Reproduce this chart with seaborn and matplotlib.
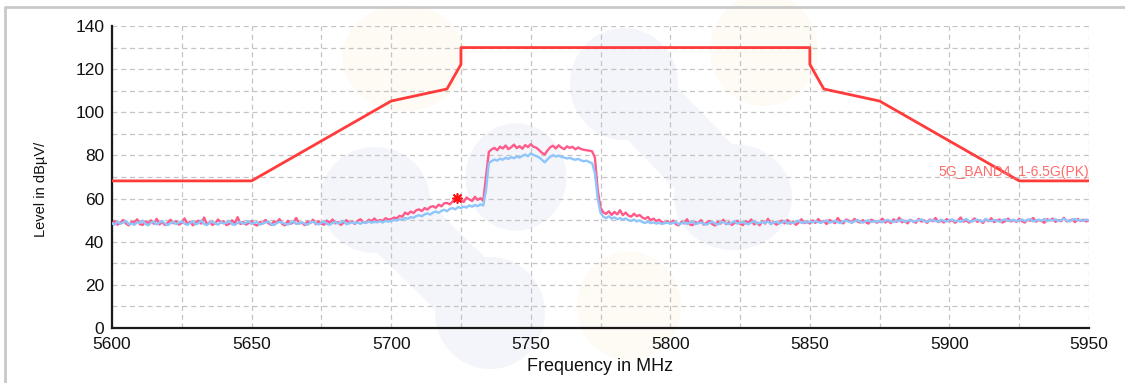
import numpy as np
import pandas as pd
import matplotlib
matplotlib.use("Agg")
import matplotlib.pyplot as plt
from matplotlib.patches import Ellipse
from matplotlib.lines import Line2D
from matplotlib.ticker import MultipleLocator
import seaborn as sns

# ---- data -------------------------------------------------------------
freq_start, freq_stop = 5600, 5950

# band-edge limit line (dBuV/m)
limit_freq = [5600, 5650, 5700, 5720, 5725, 5725, 5850, 5850, 5855, 5875, 5925, 5950]
limit_level = [68.2, 68.2, 105.2, 110.8, 122.2, 130.0, 130.0, 122.2, 110.8, 105.2, 68.2, 68.2]
limit_name = "5G_BAND4_1-6.5G(PK)"

# peak trace, 1 MHz steps from 5600 to 5950
trace_pk = [
    48.2, 49.6, 47.9, 48.8, 50.1, 48.4, 47.6, 49.2, 48.9, 50.4, 48.1, 47.8, 49.5, 48.6, 49.9, 48.3, 50.6, 48.0, 49.1, 47.7, 48.8, 50.2, 48.5, 49.4, 47.9,
    48.7, 50.8, 48.2, 49.3, 47.6, 48.9, 49.8, 48.4, 51.2, 48.1, 49.0, 47.8, 48.6, 50.3, 48.8, 49.5, 47.7, 48.3, 49.9, 48.5, 51.4, 48.2, 49.1, 47.9, 48.7,
    49.6, 48.0, 47.5, 49.2, 48.4, 50.1, 48.6, 47.8, 49.4, 48.9, 50.5, 48.2, 47.6, 49.7, 48.3, 49.0, 51.0, 48.4, 48.9, 47.7, 49.3, 48.6, 50.2, 48.1, 49.5,
    48.3, 47.9, 49.8, 48.7, 50.3, 48.5, 49.1, 47.8, 48.9, 50.0, 48.6, 49.4, 48.2, 49.7, 50.4, 49.1, 48.8, 50.2, 49.5, 50.8, 49.4, 50.1, 49.6, 50.9, 50.3,
    50.5, 51.2, 50.8, 52.0, 51.6, 53.5, 52.7, 54.0, 53.3, 54.6, 55.0, 54.2, 55.6, 54.9, 56.1, 56.5, 55.7, 57.2, 56.4, 57.8, 58.0, 57.3, 58.6, 60.1, 58.9,
    59.2, 58.4, 60.5, 59.6, 58.9, 60.8, 59.4, 60.2, 59.0, 70.5, 81.6, 82.8, 83.5, 82.4, 84.1, 83.2, 84.6, 82.9, 83.8, 85.0, 83.4, 84.3, 83.1, 84.8, 83.9,
    85.2, 84.0, 83.6, 82.5, 81.2, 80.4, 82.3, 83.8, 84.5, 83.2, 84.7, 83.6, 82.9, 84.2, 83.5, 84.0, 82.8, 83.7, 83.0, 82.6, 82.4, 82.2, 81.9, 79.0, 64.0,
    55.8, 53.6, 52.9, 54.1, 52.4, 53.8, 52.7, 54.6, 52.3, 53.5, 52.1, 51.6, 53.0, 51.8, 52.4, 51.2, 50.6, 51.5, 49.9, 50.7, 49.6, 50.2, 49.1, 48.7, 49.5,
    48.4, 49.8, 48.1, 47.6, 49.2, 48.5, 50.4, 48.0, 47.7, 49.1, 48.6, 50.0, 47.9, 48.8, 49.6, 48.2, 47.5, 49.3, 48.4, 50.2, 48.1, 49.0, 47.8, 48.6, 49.7,
    48.3, 47.7, 49.4, 48.8, 50.3, 48.0, 48.9, 47.6, 49.5, 48.4, 50.6, 48.2, 49.1, 47.9, 48.7, 49.8, 48.5, 50.1, 48.3, 49.4, 47.8, 48.9, 50.4, 48.6, 49.2,
    48.4, 49.9, 48.7, 50.5, 48.9, 49.6, 48.2, 50.1, 49.3, 48.6, 51.0, 49.2, 48.5, 50.3, 49.7, 48.8, 50.6, 49.4, 48.9, 50.0, 49.1, 48.4, 50.2, 49.6, 48.8,
    49.5, 50.7, 48.9, 49.8, 48.6, 50.4, 49.2, 51.1, 49.0, 49.7, 48.5, 50.2, 49.4, 48.8, 50.6, 49.3, 49.9, 48.7, 50.3, 49.5, 51.0, 49.1, 49.8, 48.9, 50.5,
    49.4, 50.1, 48.8, 49.7, 51.2, 49.3, 50.0, 48.9, 49.6, 50.8, 49.2, 49.9, 48.7, 50.4, 49.5, 50.9, 49.1, 49.8, 50.3, 48.9, 49.6, 50.7, 49.4, 50.0, 49.2,
    50.6, 49.5, 48.9, 50.2, 49.7, 51.0, 49.3, 50.1, 49.6, 48.8, 50.4, 49.9, 50.7, 49.2, 50.0, 49.5, 51.1, 49.4, 49.8, 50.3, 49.1, 50.5, 49.7, 50.2, 49.4, 50.0,
]

# second trace, same frequency grid
trace_av = [
    48.6, 47.9, 49.4, 48.3, 48.9, 49.7, 48.1, 48.5, 47.8, 49.0, 48.7, 49.8, 48.2, 47.6, 48.9, 49.3, 48.0, 48.8, 49.6, 48.4, 47.7, 48.6, 49.2, 48.1, 48.9,
    49.5, 48.3, 47.8, 48.7, 49.4, 48.0, 48.6, 49.9, 48.2, 47.7, 48.8, 49.3, 48.5, 47.9, 49.1, 48.4, 48.9, 49.6, 48.1, 47.8, 48.7, 49.2, 48.3, 48.8, 49.5,
    48.2, 48.7, 49.1, 47.9, 48.5, 48.9, 49.4, 48.1, 47.7, 48.6, 49.2, 48.8, 48.3, 47.9, 48.7, 49.5, 48.2, 48.6, 49.0, 48.4, 47.8, 48.9, 49.3, 48.5, 48.0,
    48.8, 49.4, 48.2, 47.9, 48.7, 49.2, 48.4, 48.9, 49.6, 48.1, 48.6, 49.0, 48.5, 48.9, 48.3, 49.1, 48.7, 49.4, 48.8, 49.2, 49.0, 49.5, 48.9, 49.7, 49.3,
    49.6, 50.1, 49.8, 50.4, 50.2, 51.0, 50.6, 51.4, 51.1, 51.9, 52.3, 51.8, 52.7, 53.1, 52.6, 53.5, 54.0, 53.4, 54.3, 54.8, 54.1, 55.2, 55.6, 55.0, 56.1,
    55.6, 56.3, 55.8, 56.9, 56.2, 57.0, 56.5, 57.3, 56.8, 64.0, 76.5, 77.4, 78.1, 77.6, 78.5, 78.0, 78.9, 78.4, 79.2, 78.7, 79.5, 79.0, 79.8, 80.4, 79.6,
    80.9, 80.2, 79.7, 79.1, 78.0, 76.8, 78.2, 79.4, 80.1, 79.5, 79.9, 79.3, 79.0, 78.6, 78.9, 78.3, 78.0, 78.4, 77.7, 77.3, 77.6, 76.9, 76.4, 72.0, 60.0,
    53.5, 51.6, 50.9, 51.8, 50.7, 51.3, 50.4, 51.0, 50.2, 50.8, 50.0, 49.6, 50.3, 49.4, 49.9, 49.1, 48.7, 49.3, 48.6, 49.0, 48.4, 48.8, 48.2, 48.6, 48.9,
    48.3, 48.7, 49.2, 48.0, 48.5, 49.0, 48.2, 48.8, 49.4, 48.1, 48.6, 48.9, 48.3, 47.9, 48.7, 49.3, 48.4, 48.0, 48.8, 49.1, 48.5, 48.2, 48.9, 49.5, 48.4,
    48.8, 49.2, 48.5, 48.1, 48.9, 49.6, 48.3, 48.7, 49.1, 48.6, 49.4, 48.2, 48.8, 49.3, 48.5, 48.9, 49.7, 48.4, 49.0, 48.6, 49.2, 49.8, 48.7, 49.1, 48.8,
    49.3, 48.9, 49.6, 49.1, 48.7, 49.4, 49.9, 48.8, 49.2, 49.7, 49.0, 48.6, 49.5, 49.8, 49.2, 48.9, 49.4, 50.1, 49.3, 48.8, 49.6, 49.9, 49.1, 49.5, 49.2,
    49.7, 49.0, 49.8, 50.2, 49.4, 49.1, 49.9, 49.5, 50.3, 49.2, 49.7, 50.0, 49.3, 49.6, 49.9, 50.4, 49.5, 49.2, 49.8, 50.1, 49.6, 49.3, 50.2, 49.7, 49.4,
    49.9, 50.3, 49.5, 49.8, 49.2, 50.0, 50.5, 49.6, 49.3, 49.9, 50.2, 49.7, 49.4, 50.6, 49.8, 49.5, 50.1, 49.7, 49.3, 50.0, 50.4, 49.6, 49.9, 50.2, 49.5,
    49.8, 50.3, 49.6, 50.0, 50.5, 49.4, 49.9, 50.2, 49.7, 50.6, 49.5, 50.1, 49.8, 50.4, 49.6, 50.0, 50.7, 49.7, 49.4, 50.2, 50.5, 49.8, 50.1, 49.6, 50.3, 49.9,
]

# worst-case marker
marker_freq = [5723.5]
marker_level = [60.1]

x_ticks = [5600, 5650, 5700, 5750, 5800, 5850, 5900, 5950]
y_ticks = [0, 20, 40, 60, 80, 100, 120, 140]

freq = np.arange(freq_start, freq_start + len(trace_pk))
traces = pd.DataFrame({"freq": freq, "pk": trace_pk, "av": trace_av[:len(freq)]})
limit = pd.DataFrame({"freq": limit_freq, "level": limit_level})

# ---- figure -----------------------------------------------------------
W, H = 1125, 383
sns.set_theme(style="white")
plt.rcParams["font.family"] = ["Liberation Sans", "DejaVu Sans"]

fig = plt.figure(figsize=(W / 100, H / 100), dpi=100, facecolor="white")


def fx(px):
    return px / W


def fy(py):
    return 1 - py / H


# faint logo watermark behind the plot
blue_wm = "#f4f5fa"
orange_wm = "#fefaf4"
for (x0, y0), (x1, y1) in [((375, 200), (490, 313)), ((624, 84), (733, 197))]:
    fig.lines.append(Line2D([fx(x0), fx(x1)], [fy(y0), fy(y1)], transform=fig.transFigure,
                            color=blue_wm, lw=52, solid_capstyle="round", zorder=-6))
for cx, cy, w, h, c in [
    (375, 200, 110, 106, blue_wm),
    (490, 313, 110, 112, blue_wm),
    (624, 84, 108, 112, blue_wm),
    (733, 197, 118, 106, blue_wm),
    (516, 177, 101, 107, blue_wm),
    (404, 58, 123, 106, orange_wm),
    (764, 50, 108, 112, orange_wm),
    (629, 306, 104, 108, orange_wm),
]:
    fig.patches.append(Ellipse((fx(cx), fy(cy)), fx(w), h / H, transform=fig.transFigure,
                               facecolor=c, edgecolor="none", zorder=-5))

# outer frame of the report window
fig.lines.append(Line2D([fx(5), fx(5), 1.0], [0.0, fy(7), fy(7)], transform=fig.transFigure,
                        color="#c9c9c9", lw=2, zorder=-4))

ax = fig.add_axes([fx(112), fy(328), fx(1089 - 112), (328 - 26) / H])
ax.set_facecolor("none")

sns.lineplot(data=traces, x="freq", y="pk", ax=ax, color="#ff5a8a", lw=1.7,
             estimator=None, sort=False, zorder=3)
sns.lineplot(data=traces, x="freq", y="av", ax=ax, color="#8ec5fb", lw=1.7,
             estimator=None, sort=False, zorder=4)
sns.lineplot(data=limit, x="freq", y="level", ax=ax, color="#ff3b3b", lw=2.0,
             estimator=None, sort=False, zorder=5)
ax.scatter(marker_freq, marker_level, marker=(8, 2, 0), s=45, color="#ff1010",
           linewidths=1.2, zorder=6)

ax.text(freq_stop, 72.3, limit_name, ha="right", va="center", fontsize=10,
        color="#ff6a6a", zorder=6)

ax.set_xlim(freq_start, freq_stop)
ax.set_ylim(0, 140)
ax.set_xticks(x_ticks)
ax.set_yticks(y_ticks)
ax.xaxis.set_minor_locator(MultipleLocator(25))
ax.yaxis.set_minor_locator(MultipleLocator(10))

ax.grid(which="both", linestyle=(0, (4, 3)), color="#c4c4c4", lw=0.9, zorder=0)
ax.set_axisbelow(True)

for side in ("top", "right"):
    ax.spines[side].set_visible(False)
for side in ("left", "bottom"):
    ax.spines[side].set_color("#1a1a1a")
    ax.spines[side].set_linewidth(1.6)

ax.tick_params(which="major", direction="inout", length=9, width=1.3, color="#1a1a1a",
               labelsize=12.5, labelcolor="#111111", pad=2)
ax.tick_params(which="minor", direction="inout", length=8, width=1.3, color="#1a1a1a")
ax.tick_params(axis="y", which="major", pad=1)

ax.set_xlabel("Frequency in MHz", fontsize=13, color="#111111", labelpad=4)
ax.set_ylabel("Level in dBµV/", fontsize=10.5, color="#111111")
ax.yaxis.set_label_coords(-0.066, 0.46)

fig.savefig("out.png", dpi=100, facecolor="white")
